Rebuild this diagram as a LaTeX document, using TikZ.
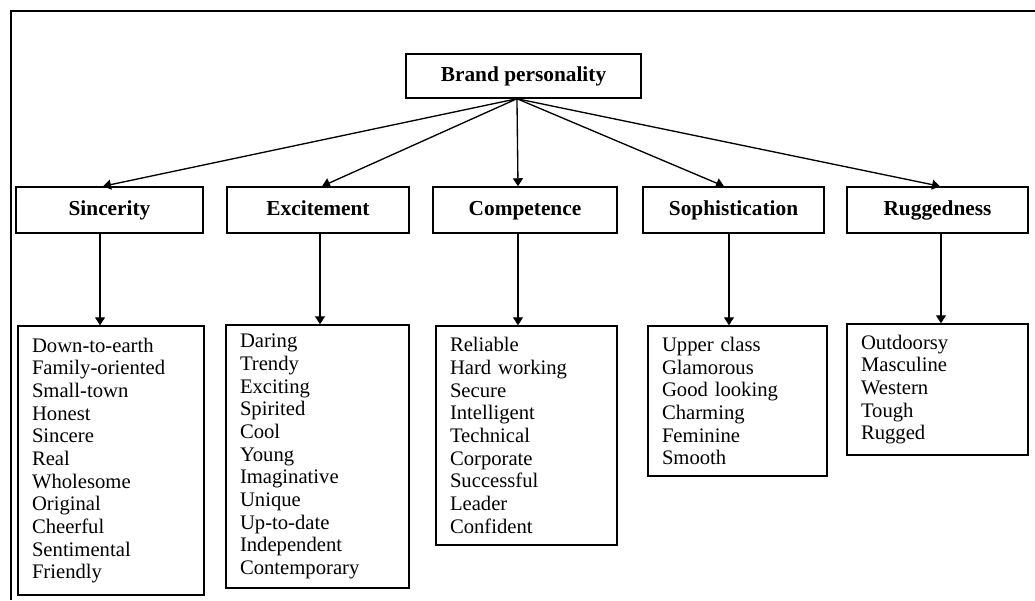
\documentclass[tikz,border=0pt]{standalone}
\usepackage{fontspec}
\setmainfont{Liberation Serif}
\usetikzlibrary{arrows.meta}

\tikzset{
  hdr/.style={draw, line width=1.1pt, font=\bfseries\fontsize{16}{19}\selectfont,
              minimum height=34.5pt, inner sep=0pt, text height=11pt, text depth=3pt},
  items/.style={draw, line width=1.1pt, align=left,
                font=\fontsize{15.5}{17}\selectfont,
                inner xsep=10.5pt, inner ysep=0pt},
  link/.style={line width=1pt, -{Triangle[length=6pt,width=7.5pt]}},
  frame/.style={line width=1.6pt}
}

\begin{document}
\begin{tikzpicture}[x=0.75pt,y=-0.75pt]
  \useasboundingbox (0,0) rectangle (1035,600);

  % outer frame (runs off the right and bottom)
  \coordinate (fb) at (11,600);
  \coordinate (fc) at (11,11);
  \coordinate (fr) at (1035,11);
  \draw[frame] (fb) -- (fc) -- (fr);

  % root
  \node[hdr, minimum width=176.25pt, minimum height=33pt] (bp) at (523.5,76) {Brand personality};

  % the five dimensions
  \node[hdr, minimum width=140.25pt] (sinc) at (109.5,210) {Sincerity};
  \node[hdr, minimum width=136.5pt]  (exc)  at (318,210)   {Excitement};
  \node[hdr, minimum width=138pt]    (comp) at (525,210)   {Competence};
  \node[hdr, minimum width=135.75pt] (soph) at (733.5,210) {Sophistication};
  \node[hdr, minimum width=135.75pt] (rugg) at (937.5,210) {Ruggedness};

  % facet lists
  \node[items, text width=118.5pt, minimum height=201.75pt] (sl) at (111,460.5)
    {Down-to-earth\\Family-oriented\\Small-town\\Honest\\Sincere\\Real\\Wholesome\\Original\\Cheerful\\Sentimental\\Friendly};
  \node[items, text width=116.25pt, minimum height=197.25pt] (el) at (317.5,456.5)
    {Daring\\Trendy\\Exciting\\Spirited\\Cool\\Young\\Imaginative\\Unique\\Up-to-date\\Independent\\Contemporary};
  \node[items, text width=114.75pt, minimum height=164.25pt] (cl) at (526.5,435.5)
    {Reliable\\Hard working\\Secure\\Intelligent\\Technical\\Corporate\\Successful\\Leader\\Confident};
  \node[items, text width=113.25pt, minimum height=112.5pt] (pl) at (737.5,401)
    {Upper class\\Glamorous\\Good looking\\Charming\\Feminine\\Smooth};
  \node[items, text width=114.75pt, minimum height=98.25pt] (rl) at (937.5,389.5)
    {Outdoorsy\\Masculine\\Western\\Tough\\Rugged};

  % root to dimensions
  \draw[link] ([xshift=-4.9pt]bp.south) -- ([xshift=-4.9pt]sinc.north);
  \draw[link] ([xshift=-4.9pt]bp.south) -- ([xshift=3pt]exc.north);
  \draw[link] ([xshift=-4.9pt]bp.south) -- ([xshift=-5.25pt]comp.north);
  \draw[link] ([xshift=-4.9pt]bp.south) -- ([xshift=-7.1pt]soph.north);
  \draw[link] ([xshift=-4.9pt]bp.south) -- ([xshift=1.9pt]rugg.north);

  % dimensions to their facets
  \draw[link] ([xshift=-7.1pt]sinc.south) -- ([xshift=-7.1pt]sinc.south |- sl.north);
  \draw[link] ([xshift=1.5pt]exc.south)   -- ([xshift=1.5pt]exc.south |- el.north);
  \draw[link] ([xshift=-5.25pt]comp.south) -- ([xshift=-5.25pt]comp.south |- cl.north);
  \draw[link] ([xshift=-3.4pt]soph.south) -- ([xshift=-3.4pt]soph.south |- pl.north);
  \draw[link] ([xshift=2.6pt]rugg.south)  -- ([xshift=2.6pt]rugg.south |- rl.north);
\end{tikzpicture}
\end{document}
